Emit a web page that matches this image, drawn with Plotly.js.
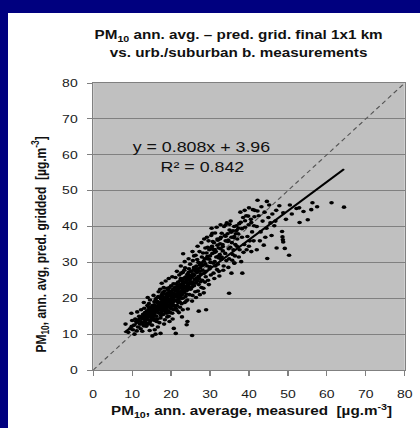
<!DOCTYPE html>
<html>
<head>
<meta charset="utf-8">
<script src="https://cdn.plot.ly/plotly-3.0.1.min.js"></script>
<style>
  html, body { margin: 0; padding: 0; background: #00007f; width: 420px; height: 428px; overflow: hidden; }
  #wrap { position: absolute; left: 8px; top: 13px; width: 324px; height: 415px; transform: scaleX(1.2716); transform-origin: 0 0; }
</style>
</head>
<body>
<div id="wrap"></div>
<script>
// measured PM10 annual average (x) and predicted gridded (y)
const measured = [
  8.3,9.8,10.2,11.2,9.5,10.5,11.0,11.5,12.0,12.2, 10.8,11.8,12.5,9.0,11.3,12.8,12.0,10.0,12.6,13.0, 11.6,12.3,10.6,9.9,12.9,
  13.2,13.5,13.8,13.1,13.6,14.0,14.2,14.5,14.8,14.3, 14.7,15.0,15.2,15.5,15.8,15.3,15.9,16.0,16.2,16.5,
  16.8,16.3,16.7,13.4,13.9,14.1,14.6,15.1,15.7,16.1, 13.3,14.4,14.9,15.4,15.6,16.4,16.9,13.7,14.2,15.0,
  15.2,16.0,17.3,15.8,14.5,16.6,13.0,14.0,15.5,16.8, 13.6,14.8,15.9,16.5,14.3,15.3,16.2,13.9,15.7,16.6,
  17.0,17.2,17.5,17.8,17.3,17.6,17.9,18.0,18.2,18.5, 18.8,18.3,18.6,18.9,19.0,19.2,19.5,19.8,19.3,19.6,
  19.9,20.0,20.2,20.5,20.8,20.3,20.6,20.9,17.1,17.4, 17.7,18.1,18.4,18.7,19.1,19.4,19.7,20.1,20.4,20.7,
  17.2,17.8,18.5,19.0,19.5,20.0,20.5,17.5,18.0,18.8, 19.2,19.8,20.2,20.8,17.0,18.2,19.6,20.4,21.2,20.7,
  17.6,18.6,19.4,20.3,17.3,18.3,19.3,20.1,17.9,18.9, 19.9,20.6,17.4,18.4,19.7,20.9,18.1,19.0,20.2,17.7,
  21.0,21.2,21.5,21.8,21.3,21.6,21.9,22.0,22.2,22.5, 22.8,22.3,22.6,22.9,23.0,23.2,23.5,23.8,23.3,23.6,
  23.9,24.0,24.2,24.5,24.8,24.3,24.6,24.9,21.1,21.4, 21.7,22.1,22.4,22.7,23.1,23.4,23.7,24.1,24.4,24.7,
  21.2,22.0,23.0,24.2,24.0,22.8,21.5,22.5,23.5,24.5, 21.8,22.2,22.9,23.3,23.8,24.3,24.8,21.0,22.6,23.9,
  25.4,21.3,22.4,23.6,24.6,21.9,23.2,24.4,22.0,23.0,
  25.0,25.2,25.5,25.8,25.3,25.6,25.9,26.0,26.2,26.5, 26.8,26.3,26.6,26.9,27.0,27.2,27.5,27.8,27.3,27.6,
  27.9,28.0,28.2,28.5,28.8,28.3,28.6,28.9,25.1,25.7, 26.1,26.7,27.1,27.7,28.1,28.7,25.4,26.4,27.4,28.4,
  27.1,29.0,23.1,25.5,26.8,27.8,28.5,25.9,26.6,27.4, 28.2,25.2,26.3,27.6,28.8,
  29.0,29.2,29.5,29.8,29.3,29.6,29.9,30.0,30.2,30.5, 30.8,30.3,30.6,30.9,31.0,31.2,31.5,31.8,31.3,31.6,
  31.9,32.0,32.2,32.5,32.8,32.3,32.6,32.9,30.6,33.0, 29.4,30.1,30.7,31.4,32.1,32.7,29.7,31.1,32.4,29.2,
  30.4,31.7,30.0,31.2,32.0,
  33.0,33.2,33.5,33.8,33.3,33.6,33.9,34.0,34.2,34.5, 34.8,34.3,34.6,34.9,35.0,35.2,35.5,35.8,35.3,35.6,
  35.9,36.0,36.2,36.5,36.8,36.3,36.6,36.9,32.7,34.0, 35.0,36.2,34.9,35.5,38.3,36.2,33.4,34.7,35.7,36.4,
  37.0,37.3,37.6,37.9,38.2,38.5,38.8,39.0,39.3,39.6, 39.9,40.2,40.5,40.8,41.0,41.3,37.4,38.0,38.6,39.4,
  40.0,40.6,41.2,37.8,38.9,40.0,41.5,42.2,44.6,37.2,
  42.0,42.5,43.0,43.5,44.0,44.5,45.0,45.5,46.0,46.5, 47.0,47.8,48.8,48.5,48.6,48.7,48.8,47.1,49.2,50.3,
  44.7,42.8,43.8,45.8,42.0,44.2,46.8,43.2,45.2,49.5,
  52.9,52.2,53.0,55.1,56.3,56.0,61.2,64.4,51.0,54.0, 50.5,57.5,
  12.4,13.0,13.5,14.1,14.6,15.1,15.6,16.1,16.6,17.1, 17.6,18.1,18.6,19.1,19.6,20.1,20.6,21.1,21.6,22.1,
  22.6,23.1,23.6,24.1,24.6,25.1,25.6,26.1,26.6,27.1,
  12.7,13.3,13.8,14.4,14.9,15.4,15.9,16.4,16.9,17.4, 17.9,18.4,18.9,19.4,19.9,20.4,20.9,21.4,21.9,22.4,
  22.9,23.4,23.9,24.4,24.9,25.4,25.9,26.4,26.9,27.4,
  14.0,15.0,16.0,17.0,18.0,19.0,20.0,21.0,22.0,23.0, 14.5,15.5,16.5,17.5,18.5,19.5,20.5,21.5,22.5,23.5,
  13.2,18.2,19.2,21.8,24.2,26.2,27.8,29.3,30.8,32.3,
  28.4,29.1,29.8,30.5,31.2,31.9,32.6,33.3,34.0,34.7, 35.4,36.1,36.8,37.5,38.2,39.0,39.8,40.6,41.4,42.2
];
const gridded = [
  12.8,15.8,11.2,10.9,11.5,12.5,13.5,12.0,14.5,11.5, 14.2,15.0,13.0,10.5,16.2,15.5,12.8,13.8,10.8,12.3, 14.0,16.8,10.0,12.2,14.2,
  13.5,15.0,16.5,17.2,12.2,14.0,15.8,13.2,17.0,18.5, 16.0,14.5,18.0,15.5,13.8,16.8,17.5,19.5,15.0,16.5,
  18.2,13.5,20.5,14.3,18.0,12.8,19.5,12.5,19.0,17.8, 16.0,14.9,15.2,17.3,14.2,18.8,15.8,13.0,17.6,16.1,
  9.5,10.0,10.2,11.2,11.0,12.0,18.8,20.2,20.8,21.8, 15.6,13.8,16.0,14.2,16.6,14.8,20.0,14.6,18.2,17.2,
  17.0,18.5,16.0,19.5,14.5,21.0,17.8,15.5,19.0,17.5, 20.5,22.0,16.2,18.8,14.8,21.5,18.0,19.8,16.5,23.0,
  17.2,20.8,18.5,22.5,19.2,15.8,24.0,21.0,20.2,15.2, 18.0,23.0,14.0,19.8,20.0,15.0,21.8,17.0,19.8,16.8,
  22.5,16.8,21.2,22.8,19.2,23.5,17.8,19.0,18.2,17.0, 18.2,16.0,21.5,18.0,13.2,12.8,13.5,14.2,10.2,11.6,
  24.2,24.8,25.5,26.0,17.6,20.2,19.0,22.0,21.6,15.8, 18.6,20.2,16.6,18.0,17.8,23.0,16.6,20.6,19.6,20.6,
  19.5,22.0,18.0,24.5,20.8,16.5,21.8,23.5,19.0,25.5, 21.0,17.5,27.0,22.8,20.0,24.2,18.8,26.0,22.0,28.5,
  21.2,24.8,19.5,27.2,23.0,17.0,25.8,29.5,25.8,23.2, 20.2,26.5,23.8,18.5,25.5,27.8,20.5,22.2,26.2,21.0,
  17.2,16.0,16.8,13.5,12.6,14.8,27.5,29.0,30.2,31.0, 22.6,21.5,24.6,23.4,22.8,24.0,25.2,21.2,20.0,19.2,
  9.6,24.0,25.0,24.4,28.2,19.6,21.6,23.4,20.8,27.2,
  22.5,25.8,20.8,28.0,24.0,30.5,23.5,26.5,21.8,29.0, 24.8,32.0,27.2,22.0,30.0,25.5,28.5,23.0,33.0,26.8,
  31.5,25.0,29.2,27.0,34.0,22.8,31.0,26.0,27.5,26.2, 24.2,30.8,23.8,29.8,27.8,24.5,19.2,20.2,21.0,21.5,
  16.4,16.8,32.4,33.0,34.5,35.5,36.5,31.8,25.6,27.6, 32.6,23.0,28.2,24.6,29.6,
  27.5,31.0,25.0,33.5,29.0,36.0,28.2,31.8,26.5,34.5, 29.8,37.5,32.5,27.0,35.5,30.2,33.0,28.0,38.2,31.5,
  36.5,29.5,34.0,32.2,37.0,27.5,35.2,30.8,38.1,38.1, 34.2,30.0,35.8,29.0,31.6,33.8,23.8,25.5,26.2,37.0,
  39.5,39.8,28.8,33.6,36.2,
  31.5,35.0,29.0,37.5,33.2,40.0,32.5,36.0,30.5,38.0, 33.8,41.0,35.8,31.0,39.0,34.2,37.0,32.2,41.5,35.5,
  38.8,33.5,37.2,35.0,40.2,29.8,38.0,34.5,40.5,40.4, 40.6,40.0,21.4,27.0,27.0,29.8,27.8,28.6,30.6,31.8,
  36.5,39.5,33.5,41.2,37.0,42.5,35.0,39.8,43.0,37.2, 40.5,36.0,42.0,38.5,44.7,40.2,31.5,30.2,32.8,33.5,
  34.5,33.0,36.0,44.0,44.5,45.2,44.5,47.3,47.0,38.0,
  40.0,43.0,38.5,41.5,44.0,39.5,42.5,41.0,43.5,40.2, 44.5,45.8,43.8,38.6,37.1,36.3,35.7,34.0,33.9,32.0,
  31.1,36.0,34.8,37.5,33.5,37.0,41.5,45.5,46.0,42.0,
  45.2,45.0,41.1,41.9,46.6,44.7,46.6,45.4,43.5,44.2, 46.0,45.5,
  13.2,14.6,13.9,15.3,16.4,15.9,16.9,16.3,18.9,17.4, 17.3,19.4,18.4,19.6,20.7,19.1,21.3,20.5,22.1,22.9,
  21.7,23.7,23.2,25.2,24.3,24.6,26.8,25.3,27.9,26.1,
  14.9,12.6,15.4,17.1,14.1,17.9,15.1,17.6,16.9,19.8, 18.6,16.7,20.9,17.6,21.4,18.7,22.2,19.3,23.6,20.4,
  25.1,21.9,24.9,22.9,26.3,23.2,28.6,24.4,28.2,29.3,
  16.2,17.4,16.8,18.6,19.7,17.9,19.4,22.6,21.4,22.3, 15.7,16.3,19.1,16.9,18.3,21.2,20.1,21.1,23.3,25.7,
  14.9,17.1,22.4,18.8,26.7,27.6,29.1,31.6,33.6,31.2,
  30.3,32.6,30.9,33.9,32.8,34.8,36.6,34.4,37.3,36.2, 38.4,36.9,38.9,40.8,39.4,41.6,42.9,41.1,42.7,44.3
];
// linear fit reported on the chart
const fitSlope = 0.808;
const fitIntercept = 3.96;
const fitR2 = 0.842;
const fitXRange = [8, 64.4];
const identityRange = [0, 80];
const tickVals = [0, 10, 20, 30, 40, 50, 60, 70, 80];

const fitY = fitXRange.map(x => fitSlope * x + fitIntercept);
const font = 'Liberation Sans, Arial, sans-serif';

const traces = [
  { x: identityRange, y: identityRange, mode: 'lines', type: 'scatter',
    line: { color: '#555555', width: 1, dash: '4px,3px' }, hoverinfo: 'skip' },
  { x: measured, y: gridded, mode: 'markers', type: 'scatter',
    marker: { color: '#000000', size: 3.6 } },
  { x: fitXRange, y: fitY, mode: 'lines', type: 'scatter',
    line: { color: '#000000', width: 2 } }
];

const layout = {
  width: 324, height: 415,
  margin: { l: 67, r: 12, t: 70, b: 58 },
  paper_bgcolor: '#ffffff',
  plot_bgcolor: '#c0c0c0',
  showlegend: false,
  font: { family: font, color: '#111111' },
  xaxis: {
    range: [0, 80], tickvals: tickVals, showgrid: false, zeroline: false,
    ticks: 'outside', ticklen: 5, tickcolor: '#808080', ticklabelstandoff: 9,
    showline: true, linecolor: '#808080', mirror: true,
    tickfont: { size: 11, color: '#1a1a1a', family: font }
  },
  yaxis: {
    range: [0, 80], tickvals: tickVals, showgrid: true, gridcolor: '#808080', gridwidth: 1, zeroline: false,
    ticks: 'outside', ticklen: 4, tickcolor: '#808080', ticklabelstandoff: 5,
    showline: true, linecolor: '#808080', mirror: true,
    tickfont: { size: 11, color: '#1a1a1a', family: font }
  },
  annotations: [
    { text: '<b>PM<sub>10</sub> ann. avg. – pred. grid. final 1x1 km</b>', xref: 'paper', yref: 'paper',
      x: 0.467, y: 1.164, xanchor: 'center', yanchor: 'middle', showarrow: false,
      font: { size: 12, family: font, color: '#111111' } },
    { text: '<b>vs. urb./suburban b. measurements</b>', xref: 'paper', yref: 'paper',
      x: 0.467, y: 1.1045, xanchor: 'center', yanchor: 'middle', showarrow: false,
      font: { size: 12, family: font, color: '#111111' } },
    { text: '<b>PM<sub>10</sub>, ann. average, measured\u00a0\u00a0[µg.m<sup>-3</sup>]</b>', xref: 'paper', yref: 'paper',
      x: 0.508, y: -0.143, xanchor: 'center', yanchor: 'middle', showarrow: false,
      font: { size: 12, family: font, color: '#111111' } },
    { text: '<b>PM<sub>10</sub>, ann. avg, pred. gridded\u00a0\u00a0[µg.m<sup>-3</sup>]</b>', xref: 'paper', yref: 'paper',
      x: -0.169, y: 0.4355, xanchor: 'center', yanchor: 'middle', showarrow: false, textangle: -90,
      font: { size: 12, family: font, color: '#111111' } },
    { text: 'y = ' + fitSlope.toFixed(3) + 'x + ' + fitIntercept.toFixed(2), xref: 'x', yref: 'y',
      x: 27.8, y: 62.3, xanchor: 'center', yanchor: 'middle', showarrow: false,
      font: { size: 14, family: font, color: '#111111' } },
    { text: 'R² = ' + fitR2.toFixed(3), xref: 'x', yref: 'y',
      x: 28.1, y: 56.7, xanchor: 'center', yanchor: 'middle', showarrow: false,
      font: { size: 14, family: font, color: '#111111' } }
  ]
};

Plotly.newPlot('wrap', traces, layout, { displayModeBar: false, staticPlot: true });
</script>
</body>
</html>
